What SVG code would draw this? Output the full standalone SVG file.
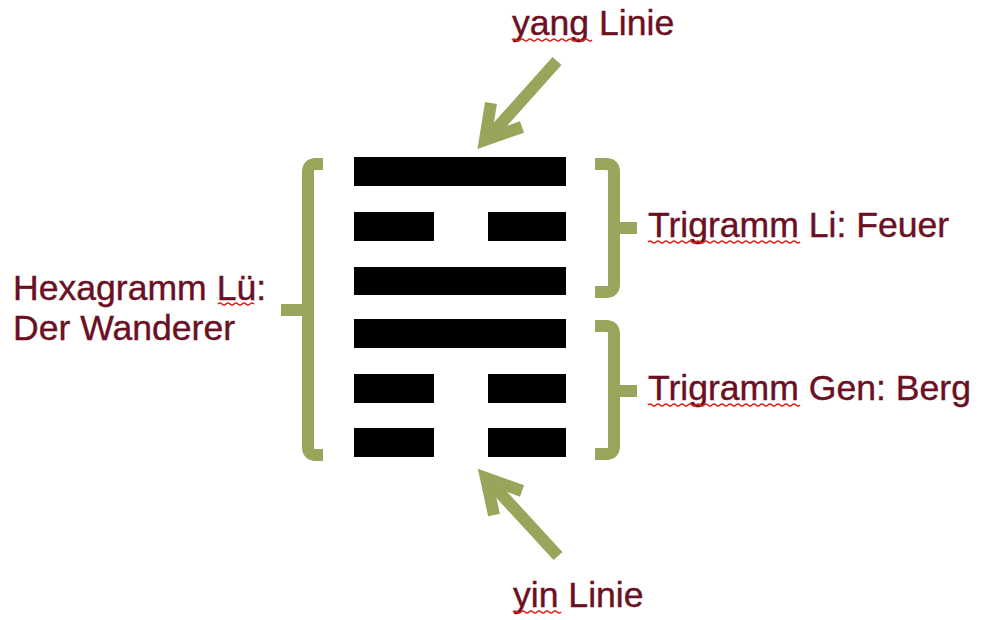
<svg xmlns="http://www.w3.org/2000/svg" width="984" height="620" viewBox="0 0 984 620">
<style>
.lbl{font-family:"Liberation Sans",Arial,sans-serif;font-size:35.6px;fill:#6b1024;stroke:#6b1024;stroke-width:0.4}
.bar{fill:#000}
.br{fill:none;stroke:#9aa45a;stroke-width:12;stroke-linejoin:round}
.arr{fill:none;stroke:#9aa45a;stroke-width:12;stroke-linejoin:miter}
.sq{fill:none;stroke:#e0201a;stroke-width:1.6}
</style>
<rect width="984" height="620" fill="#fff"/>
<g id="hexagram">
<rect class="bar" x="354" y="157" width="212" height="29"/>
<rect class="bar" x="354" y="212" width="80" height="29"/>
<rect class="bar" x="488" y="212" width="78" height="29"/>
<rect class="bar" x="354" y="267" width="212" height="28"/>
<rect class="bar" x="354" y="319" width="212" height="29"/>
<rect class="bar" x="354" y="374" width="80" height="29"/>
<rect class="bar" x="488" y="374" width="78" height="29"/>
<rect class="bar" x="354" y="428" width="80" height="29"/>
<rect class="bar" x="488" y="428" width="78" height="29"/>
</g>
<g id="brackets">
<path class="br" d="M323,164 L316,164 Q308,164 308,172 L308,447 Q308,455 316,455 L323,455 M308,310 L281,310"/>
<path class="br" d="M595,164 L606,164 Q614,164 614,172 L614,284 Q614,292 606,292 L595,292 M614,228 L637,228"/>
<path class="br" d="M595,326 L606,326 Q614,326 614,334 L614,446 Q614,454 606,454 L595,454 M614,391 L637,391"/>
</g>
<g id="connectors">
<line class="arr" x1="557" y1="61" x2="488" y2="138"/>
<polyline class="arr" points="491,103 485,140 522,127"/>
<line class="arr" x1="558" y1="556" x2="488" y2="480"/>
<polyline class="arr" points="494,515 486,478 522,491"/>
</g>
<g id="label-yang"><text class="lbl" x="512" y="35">yang Linie</text>
<path class="sq" d="M512,40 q2,-2 4,0 t4,0 t4,0 t4,0 t4,0 t4,0 t4,0 t4,0 t4,0 t4,0 t4,0 t4,0 t4,0 t4,0 t4,0 t4,0 t4,0 t4,0 t4,0 t4,0"/></g>
<g id="label-yin"><text class="lbl" x="513" y="607">yin Linie</text>
<path class="sq" d="M513,612 q2,-2 4,0 t4,0 t4,0 t4,0 t4,0 t4,0 t4,0 t4,0 t4,0 t4,0 t4,0 t4,0"/></g>
<g id="label-hexagramm"><text class="lbl" x="13" y="300">Hexagramm Lü:</text>
<text class="lbl" x="13" y="340">Der Wanderer</text>
<path class="sq" d="M218,304 q2,-2 4,0 t4,0 t4,0 t4,0 t4,0 t4,0 t4,0 t4,0 t4,0"/></g>
<g id="label-li"><text class="lbl" x="648" y="237">Trigramm Li: Feuer</text>
<path class="sq" d="M648,242 q2,-2 4,0 t4,0 t4,0 t4,0 t4,0 t4,0 t4,0 t4,0 t4,0 t4,0 t4,0 t4,0 t4,0 t4,0 t4,0 t4,0 t4,0 t4,0 t4,0 t4,0 t4,0 t4,0 t4,0 t4,0 t4,0 t4,0 t4,0 t4,0 t4,0 t4,0 t4,0 t4,0 t4,0 t4,0 t4,0 t4,0 t4,0 t4,0"/></g>
<g id="label-gen"><text class="lbl" x="648" y="400">Trigramm Gen: Berg</text>
<path class="sq" d="M648,405 q2,-2 4,0 t4,0 t4,0 t4,0 t4,0 t4,0 t4,0 t4,0 t4,0 t4,0 t4,0 t4,0 t4,0 t4,0 t4,0 t4,0 t4,0 t4,0 t4,0 t4,0 t4,0 t4,0 t4,0 t4,0 t4,0 t4,0 t4,0 t4,0 t4,0 t4,0 t4,0 t4,0 t4,0 t4,0 t4,0 t4,0 t4,0 t4,0"/></g>
</svg>
